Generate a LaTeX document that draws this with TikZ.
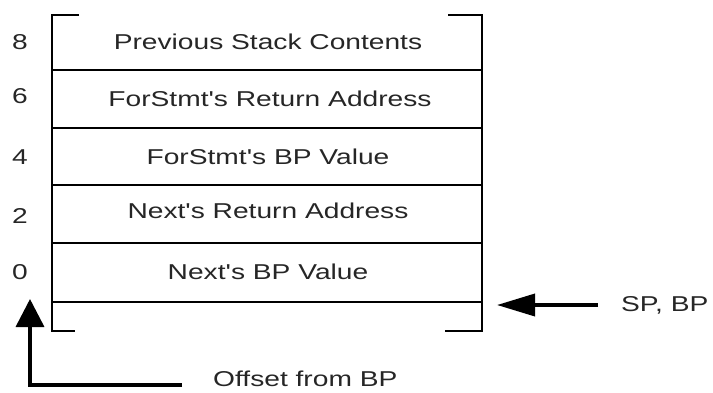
\documentclass[tikz,border=0pt]{standalone}
\usepackage{fontspec}
\setmainfont{Liberation Sans}
\usetikzlibrary{arrows.meta}
\newcommand{\wide}[1]{\scalebox{1.31}[1]{#1}}
\newcommand{\ap}{\textquotesingle}
\begin{document}
\begin{tikzpicture}[x=1pt,y=-1pt,
  txt/.style={inner sep=0pt,text=black!85,font=\fontsize{21.5}{24}\selectfont},
  frame/.style={line width=2.6pt,black},
  rowline/.style={line width=2pt,black},
  bigarrow/.style={line width=3.6pt,black,-{Triangle[length=38pt,width=22pt]}},
  offarrow/.style={line width=3.6pt,black,-{Triangle[length=28pt,width=28pt]}}]
\useasboundingbox (0,0) rectangle (713,392);

% stack frame outline: side walls and corner brackets
\coordinate (tl) at (52,15);
\coordinate (tr) at (482,15);
\coordinate (bl) at (52,331);
\coordinate (br) at (482,331);
\draw[frame] (79,15) -- (tl) -- (bl) -- (75,331);
\draw[frame] (448,15) -- (tr) -- (br) -- (445,331);

% word boundaries
\foreach \y in {70,128,185,243,302}
  \draw[rowline] (52,\y) -- (482,\y);

% cell contents
\node[txt] (c8) at (268,42) {\wide{Previous Stack Contents}};
\node[txt] (c6) at (270,99) {\wide{ForStmt\ap s Return Address}};
\node[txt] (c4) at (268,157) {\wide{ForStmt\ap s BP Value}};
\node[txt] (c2) at (268,211) {\wide{Next\ap s Return Address}};
\node[txt] (c0) at (268,272) {\wide{Next\ap s BP Value}};

% offsets
\node[txt] (o8) at (20,42) {\wide{8}};
\node[txt] (o6) at (20,96) {\wide{6}};
\node[txt] (o4) at (20,157) {\wide{4}};
\node[txt] (o2) at (20,216) {\wide{2}};
\node[txt] (o0) at (20,272) {\wide{0}};

% SP, BP pointer
\node[txt,anchor=west] (spbp) at (621,305) {\wide{SP, BP}};
\coordinate (sptail) at (598,305);
\coordinate (sptip) at (497,305);
\draw[bigarrow] (sptail) -- (sptip);

% offset direction
\node[txt,anchor=base west] (offs) at (213,386.5) {\wide{Offset from BP}};
\coordinate (offend) at (182,385);
\coordinate (offcorner) at (30,385);
\coordinate (offtip) at (30,299);
\draw[offarrow] (offend) -- (offcorner) -- (offtip);
\end{tikzpicture}
\end{document}
